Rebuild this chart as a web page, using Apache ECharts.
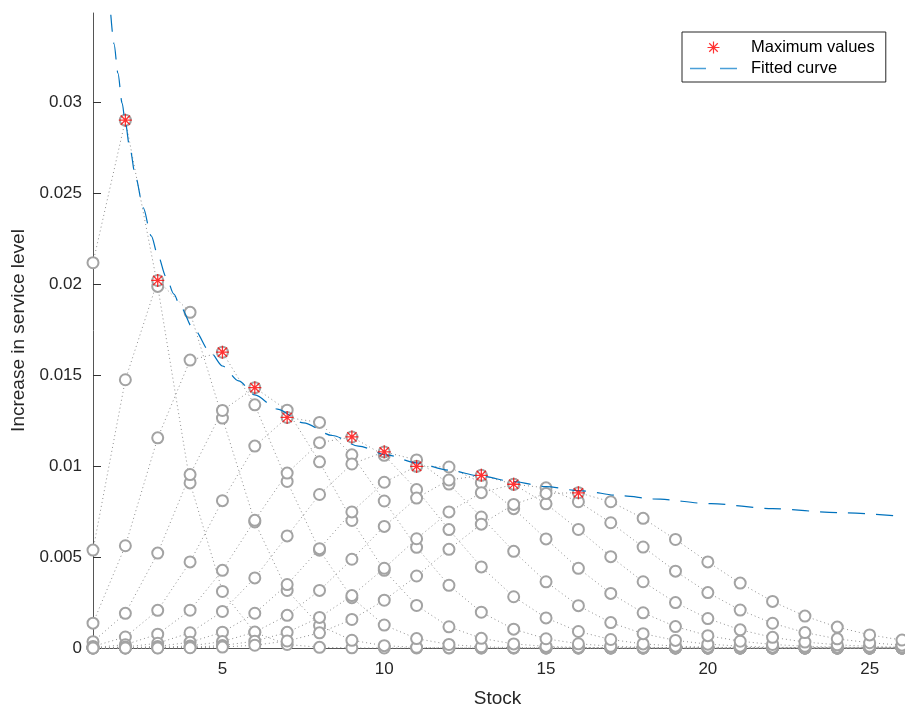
<!DOCTYPE html>
<html>
<head>
<meta charset="utf-8">
<script src="https://cdn.jsdelivr.net/npm/echarts@6/dist/echarts.min.js"></script>
<style>
html,body{margin:0;padding:0;background:#fff;}
#chart{width:905px;height:713px;}
</style>
</head>
<body>
<div id="chart"></div>
<script>
// Stock levels (x) for every gray series
const stock = [1,2,3,4,5,6,7,8,9,10,11,12,13,14,15,16,17,18,19,20,21,22,23,24,25,26];

// Increase in service level per series
const s1  = [0.021176,0.029011,0.019873,0.009075,0.003108,0.000852,0.000194,0.000038,0.000007,0.000001,0,0,0,0,0,0,0,0,0,0,0,0,0,0,0,0];
const s2  = [0.005381,0.014743,0.020198,0.018447,0.012636,0.006925,0.003162,0.001238,0.000424,0.000129,0.000035,0.000009,0.000002,0,0,0,0,0,0,0,0,0,0,0,0,0];
const s3  = [0.001367,0.005620,0.011549,0.015822,0.016257,0.013363,0.009154,0.005375,0.002761,0.001261,0.000518,0.000194,0.000066,0.000021,0.000006,0.000002,0,0,0,0,0,0,0,0,0,0];
const s4  = [0.000347,0.001904,0.005217,0.009530,0.013056,0.014309,0.013069,0.010231,0.007008,0.004267,0.002338,0.001165,0.000532,0.000224,0.000088,0.000032,0.000011,0.000004,0.000001,0,0,0,0,0,0,0];
const s5  = [0.000088,0.000605,0.002071,0.004730,0.008099,0.011096,0.012668,0.012397,0.010615,0.008079,0.005534,0.003446,0.001967,0.001037,0.000507,0.000232,0.000099,0.000040,0.000015,0.000005,0.000002,0,0,0,0,0];
const s6  = [0.000022,0.000184,0.000758,0.002077,0.004268,0.007016,0.009612,0.011287,0.011597,0.010592,0.008707,0.006506,0.004457,0.002818,0.001655,0.000907,0.000466,0.000225,0.000103,0.000045,0.000018,0.000007,0.000003,0.000001,0,0];
const s7  = [0.000006,0.000055,0.000262,0.000838,0.002009,0.003854,0.006159,0.008438,0.010115,0.010778,0.010336,0.009011,0.007201,0.005312,0.003639,0.002327,0.001395,0.000787,0.000419,0.000212,0.000101,0.000046,0.000020,0.000008,0.000003,0.000001];
const s8  = [0.000001,0.000016,0.000087,0.000318,0.000871,0.001909,0.003487,0.005460,0.007480,0.009109,0.009984,0.009948,0.009085,0.007660,0.005996,0.004381,0.003001,0.001935,0.001178,0.000680,0.000372,0.000194,0.000097,0.000046,0.000021,0.000009];
const s9  = [0,0.000005,0.000028,0.000115,0.000354,0.000874,0.001796,0.003164,0.004877,0.006681,0.008238,0.009234,0.009488,0.008999,0.007925,0.006515,0.005020,0.003641,0.002494,0.001619,0.000998,0.000586,0.000328,0.000176,0.000090,0.000045];
const s10 = [0,0.000001,0.000009,0.000040,0.000137,0.000376,0.000859,0.001681,0.002879,0.004382,0.006004,0.007478,0.008537,0.008997,0.008804,0.008041,0.006885,0.005548,0.004223,0.003045,0.002086,0.001361,0.000847,0.000505,0.000288,0.000158];
const s11 = [0,0,0.000003,0.000014,0.000051,0.000154,0.000387,0.000832,0.001568,0.002626,0.003957,0.005421,0.006808,0.007892,0.008495,0.008535,0.008039,0.007126,0.005966,0.004732,0.003566,0.002559,0.001753,0.001148,0.000721,0.000435];
const grayNames = ['s1','s2','s3','s4','s5','s6','s7','s8','s9','s10','s11'];
const grayValues = [s1,s2,s3,s4,s5,s6,s7,s8,s9,s10,s11];

// Maximum values (red asterisks)
const maxStock = [2,3,5,6,7,9,10,11,13,14,16];
const maxValue = [0.02901,0.02020,0.01626,0.01431,0.01267,0.01160,0.01078,0.00998,0.00949,0.00900,0.00853];

// Fitted curve
const fitStock = [1.55,1.65,1.77,1.9,2,2.14,2.32,2.55,2.8,3,3.26,3.5,3.7,4.1,4.65,5,5.5,6,6.7,7.5,8.4,9.2,10.1,11,12,13,14,15,16,17.4,18.3,20.1,22,24,26];
const fitValue = [0.0348,0.0332,0.0316,0.02995,0.02885,0.02745,0.02585,0.0242,0.02265,0.0216,0.0204,0.01945,0.01875,0.01755,0.0162,0.0155,0.01468,0.01391,0.01313,0.01237,0.01168,0.0111,0.0106,0.01017,0.00977,0.00944,0.00914,0.00887,0.00865,0.00836,0.0082,0.00793,0.00766,0.00744,0.00724];

// Tick labels
const xTicks = [5,10,15,20,25];
const yTicks = [0,0.005,0.01,0.015,0.02,0.025,0.03];

const FONT = "'Liberation Sans', Arial, Helvetica, sans-serif";
const ASTERISK = 'path://M0 45 L100 45 L100 55 L0 55 Z M45 0 L55 0 L55 100 L45 100 Z M17.9 10.8 L89.2 82.1 L82.1 89.2 L10.8 17.9 Z M82.1 10.8 L89.2 17.9 L17.9 89.2 L10.8 82.1 Z';
const DASH_ICON = 'path://M0 0 L16 0 L16 1.3 L0 1.3 Z M30 0 L47 0 L47 1.3 L30 1.3 Z';

const series = [];
grayValues.forEach(function (vals, i) {
  series.push({
    name: grayNames[i],
    type: 'line',
    data: stock.map(function (x, j) { return [x, vals[j]]; }),
    symbol: 'emptyCircle',
    symbolSize: 11,
    showAllSymbol: true,
    clip: false,
    itemStyle: { color: '#a3a3a3', borderColor: '#a3a3a3', borderWidth: 0.8 },
    lineStyle: { color: '#8f8f8f', width: 1, type: [1, 3] },
    emphasis: { disabled: true },
    silent: true,
    z: 2
  });
});
series.push({
  name: 'Fitted curve',
  type: 'line',
  data: fitStock.map(function (x, j) { return [x, fitValue[j]]; }),
  symbol: 'none',
  smooth: 0.3,
  smoothMonotone: 'x',
  clip: false,
  itemStyle: { color: '#0072BD' },
  lineStyle: { color: '#0072BD', width: 1.2, type: [17, 11] },
  emphasis: { disabled: true },
  silent: true,
  z: 3
});
series.push({
  name: 'Maximum values',
  type: 'scatter',
  data: maxStock.map(function (x, j) { return [x, maxValue[j]]; }),
  symbol: ASTERISK,
  symbolSize: 13,
  clip: false,
  itemStyle: { color: '#ff0000' },
  emphasis: { disabled: true },
  silent: true,
  z: 4
});

const chart = echarts.init(document.getElementById('chart'), null, { renderer: 'canvas' });
chart.setOption({
  animation: false,
  backgroundColor: '#ffffff',
  textStyle: { fontFamily: FONT },
  grid: { left: 93, right: 3, top: 13, bottom: 60, containLabel: false },
  legend: {
    data: [
      { name: 'Maximum values', icon: ASTERISK },
      { name: 'Fitted curve', icon: DASH_ICON, itemStyle: { color: '#4a9fd8' } }
    ],
    orient: 'vertical',
    left: 682,
    top: 32,
    padding: [7, 11, 5, 8],
    itemWidth: 47,
    itemHeight: 12,
    itemGap: 4,
    borderColor: '#262626',
    borderWidth: 1,
    backgroundColor: '#ffffff',
    selectedMode: false,
    textStyle: { fontFamily: FONT, fontSize: 16.5, color: '#000', padding: [0, 0, 0, 9] }
  },
  xAxis: {
    type: 'value',
    min: 1,
    max: 26,
    name: 'Stock',
    nameLocation: 'middle',
    nameGap: 41,
    nameTextStyle: { fontFamily: FONT, fontSize: 19, color: '#262626' },
    axisLine: { show: true, onZero: false, lineStyle: { color: '#555', width: 1 } },
    axisTick: { show: true, inside: true, length: 7, customValues: xTicks, lineStyle: { color: '#333' } },
    axisLabel: { show: true, margin: 13, fontFamily: FONT, fontSize: 17, color: '#262626', customValues: xTicks },
    splitLine: { show: false }
  },
  yAxis: {
    type: 'value',
    min: 0,
    max: 0.0349,
    name: 'Increase in service level',
    nameLocation: 'middle',
    nameGap: 60,
    nameTextStyle: { fontFamily: FONT, fontSize: 19, color: '#262626' },
    axisLine: { show: true, onZero: false, lineStyle: { color: '#555', width: 1 } },
    axisTick: { show: true, inside: true, length: 8, customValues: yTicks, lineStyle: { color: '#333' } },
    axisLabel: {
      show: true, margin: 11, fontFamily: FONT, fontSize: 17, color: '#262626', customValues: yTicks,
      formatter: function (v) { return String(+(+v).toFixed(3)); }
    },
    splitLine: { show: false }
  },
  series: series
});
</script>
</body>
</html>
